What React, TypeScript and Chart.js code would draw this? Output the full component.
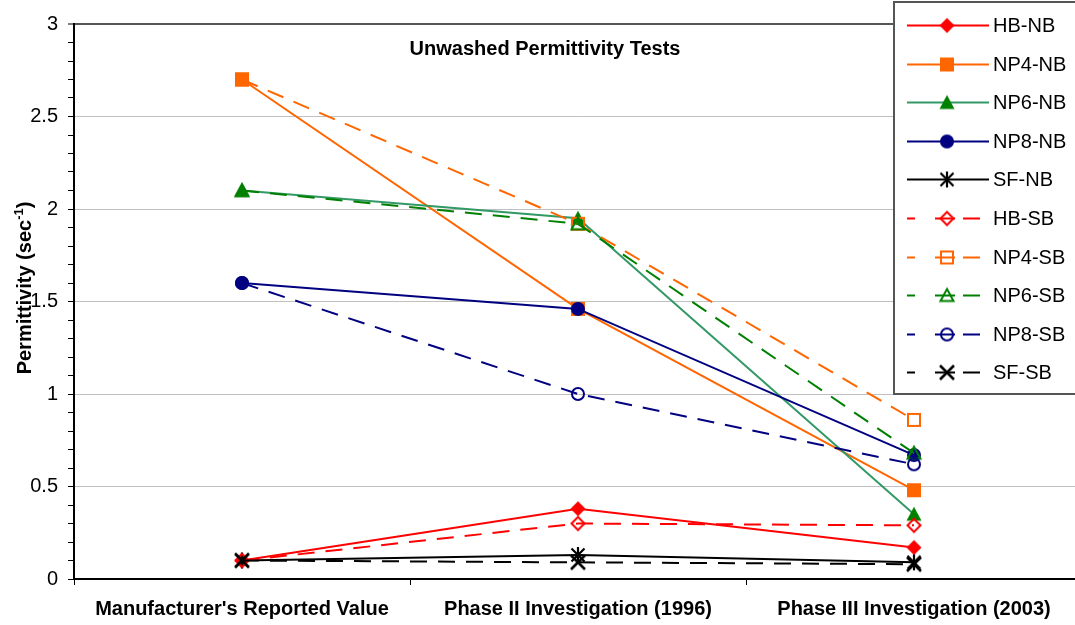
import React, { useEffect, useRef } from 'react';
import { Chart, registerables } from 'chart.js';

Chart.register(...registerables);

const categories = ["Manufacturer's Reported Value", 'Phase II Investigation (1996)', 'Phase III Investigation (2003)'];
const seriesNames = ['HB-NB', 'NP4-NB', 'NP6-NB', 'NP8-NB', 'SF-NB', 'HB-SB', 'NP4-SB', 'NP6-SB', 'NP8-SB', 'SF-SB'];
const hbNB = [0.1, 0.38, 0.17];
const np4NB = [2.7, 1.46, 0.48];
const np6NB = [2.1, 1.95, 0.35];
const np8NB = [1.6, 1.46, 0.67];
const sfNB = [0.1, 0.13, 0.09];
const hbSB = [0.1, 0.3, 0.29];
const np4SB = [2.7, 1.92, 0.86];
const np6SB = [2.1, 1.92, 0.68];
const np8SB = [1.6, 1.0, 0.62];
const sfSB = [0.1, 0.09, 0.08];
const seriesValues = [hbNB, np4NB, np6NB, np8NB, sfNB, hbSB, np4SB, np6SB, np8SB, sfSB];
const chartTitle = 'Unwashed Permittivity Tests';
const yTitleMain = 'Permittivity (sec';
const yTitleSup = '-1';
const yTitleEnd = ')';

const FONT = "'Liberation Sans', Arial, sans-serif";
const CANVAS_W = 1091;

type Style = { line: string; mark: string; kind: string; filled: boolean; dashed: boolean };
const styles: Style[] = [
  { line: '#FF0000', mark: '#FF0000', kind: 'diamond', filled: true, dashed: false },
  { line: '#FF6600', mark: '#FF6600', kind: 'square', filled: true, dashed: false },
  { line: '#339966', mark: '#008000', kind: 'triangle', filled: true, dashed: false },
  { line: '#000080', mark: '#000080', kind: 'circle', filled: true, dashed: false },
  { line: '#000000', mark: '#000000', kind: 'asterisk', filled: true, dashed: false },
  { line: '#FF0000', mark: '#FF0000', kind: 'diamond', filled: false, dashed: true },
  { line: '#FF6600', mark: '#FF6600', kind: 'square', filled: false, dashed: true },
  { line: '#008000', mark: '#008000', kind: 'triangle', filled: false, dashed: true },
  { line: '#000080', mark: '#000080', kind: 'circle', filled: false, dashed: true },
  { line: '#000000', mark: '#000000', kind: 'x', filled: false, dashed: true },
];

function makeMarker(st: Style): HTMLCanvasElement {
  const c = document.createElement('canvas');
  c.width = 20;
  c.height = 20;
  const ctx = c.getContext('2d')!;
  const cx = 10, cy = 10;
  ctx.strokeStyle = st.mark;
  ctx.fillStyle = st.mark;
  ctx.lineWidth = 2;
  ctx.beginPath();
  switch (st.kind) {
    case 'diamond': {
      const r = st.filled ? 7.5 : 6.5;
      ctx.moveTo(cx, cy - r); ctx.lineTo(cx + r, cy); ctx.lineTo(cx, cy + r); ctx.lineTo(cx - r, cy); ctx.closePath();
      break;
    }
    case 'square': {
      if (st.filled) ctx.rect(cx - 7, cy - 7, 14, 14);
      else ctx.rect(cx - 6, cy - 6, 12, 12);
      break;
    }
    case 'triangle': {
      if (st.filled) { ctx.moveTo(cx, cy - 7.5); ctx.lineTo(cx + 7.5, cy + 6.5); ctx.lineTo(cx - 7.5, cy + 6.5); }
      else { ctx.moveTo(cx, cy - 6.5); ctx.lineTo(cx + 6.5, cy + 5.5); ctx.lineTo(cx - 6.5, cy + 5.5); }
      ctx.closePath();
      break;
    }
    case 'circle': {
      ctx.arc(cx, cy, st.filled ? 7 : 6, 0, Math.PI * 2);
      break;
    }
    case 'asterisk': {
      ctx.moveTo(cx, cy - 8); ctx.lineTo(cx, cy + 8);
      ctx.moveTo(cx - 6.5, cy - 6.5); ctx.lineTo(cx + 6.5, cy + 6.5);
      ctx.moveTo(cx + 6.5, cy - 6.5); ctx.lineTo(cx - 6.5, cy + 6.5);
      ctx.lineWidth = 2.2;
      ctx.stroke();
      return c;
    }
    case 'x': {
      ctx.moveTo(cx - 7, cy - 7); ctx.lineTo(cx + 7, cy + 7);
      ctx.moveTo(cx + 7, cy - 7); ctx.lineTo(cx - 7, cy + 7);
      ctx.lineWidth = 2.6;
      ctx.stroke();
      return c;
    }
  }
  if (st.filled) ctx.fill();
  else ctx.stroke();
  return c;
}

function makeDecorPlugin(markers: HTMLCanvasElement[]) {
  return {
    id: 'decor',
    afterDraw(chart: any) {
      const ctx = chart.ctx as CanvasRenderingContext2D;
      ctx.save();
      // chart title inside plot
      ctx.fillStyle = '#000';
      ctx.font = `bold 20px ${FONT}`;
      ctx.textAlign = 'center';
      ctx.textBaseline = 'middle';
      ctx.fillText(chartTitle, 545, 49);

      // y axis title with superscript
      ctx.save();
      ctx.translate(24, 288);
      ctx.rotate(-Math.PI / 2);
      ctx.font = `bold 20px ${FONT}`;
      const w1 = ctx.measureText(yTitleMain).width;
      const w3 = ctx.measureText(yTitleEnd).width;
      ctx.font = `bold 13px ${FONT}`;
      const w2 = ctx.measureText(yTitleSup).width;
      const total = w1 + w2 + w3;
      let x = -total / 2;
      ctx.textAlign = 'left';
      ctx.textBaseline = 'alphabetic';
      ctx.font = `bold 20px ${FONT}`;
      ctx.fillText(yTitleMain, x, 7);
      x += w1;
      ctx.font = `bold 13px ${FONT}`;
      ctx.fillText(yTitleSup, x, -1);
      x += w2;
      ctx.font = `bold 20px ${FONT}`;
      ctx.fillText(yTitleEnd, x, 7);
      ctx.restore();

      // legend
      ctx.fillStyle = '#fff';
      ctx.fillRect(894, 2, 200, 392);
      ctx.strokeStyle = '#555';
      ctx.lineWidth = 2;
      ctx.strokeRect(894, 2, 200, 392);
      chart.data.datasets.forEach((ds: any, i: number) => {
        const st = styles[i];
        const y = Math.round(25 + i * 38.6) + 0.5;
        ctx.strokeStyle = st.line;
        ctx.lineWidth = 2;
        ctx.beginPath();
        if (st.dashed) {
          ctx.setLineDash([8, 20, 20, 8, 17, 100]);
          ctx.moveTo(907, y); ctx.lineTo(981, y);
        } else {
          ctx.setLineDash([]);
          ctx.moveTo(907, y); ctx.lineTo(989, y);
        }
        ctx.stroke();
        ctx.setLineDash([]);
        ctx.drawImage(markers[i], 947 - 10, y - 10);
        ctx.fillStyle = '#000';
        ctx.font = `20px ${FONT}`;
        ctx.textAlign = 'left';
        ctx.textBaseline = 'middle';
        ctx.fillText(ds.label, 993, y + 1);
      });
      ctx.restore();
    },
  };
}

export default function App() {
  const ref = useRef<HTMLCanvasElement>(null);
  useEffect(() => {
    if (!ref.current) return;
    const markers = styles.map(makeMarker);
    const datasets = seriesNames.map((name, i) => ({
      label: name,
      data: seriesValues[i],
      borderColor: styles[i].line,
      backgroundColor: styles[i].mark,
      borderWidth: 2,
      borderDash: styles[i].dashed ? [17, 11] : [],
      pointStyle: markers[i],
      pointRadius: 7,
      pointHoverRadius: 7,
      tension: 0,
      fill: false,
      order: 9 - i,
    }));
    const chart: any = new Chart(ref.current, {
      type: 'line',
      data: { labels: categories, datasets },
      plugins: [makeDecorPlugin(markers)],
      options: {
        responsive: false,
        animation: false,
        devicePixelRatio: 1,
        events: [],
        layout: { padding: { top: 24, right: 1, left: 0, bottom: 0 } },
        plugins: { legend: { display: false }, tooltip: { enabled: false }, title: { display: false } },
        scales: {
          x: {
            type: 'category',
            offset: true,
            grid: { offset: true, drawOnChartArea: false, drawTicks: true, tickLength: 6, tickColor: '#000', tickWidth: 1 },
            border: { color: '#000', width: 2 },
            ticks: { font: { family: FONT, size: 20, weight: 'bold' }, color: '#000', padding: 12, maxRotation: 0, autoSkip: false },
            afterFit: (s: any) => { s.height = 46; s.paddingLeft = 0; s.paddingRight = 0; },
          },
          y: {
            min: 0,
            max: 3,
            ticks: {
              stepSize: 0.1,
              autoSkip: false,
              maxTicksLimit: 100,
              font: { family: FONT, size: 20 },
              color: '#000',
              padding: 10,
              callback: (v: any) => {
                const k = Math.round(Number(v) * 10);
                return k % 5 === 0 ? String(k / 10) : '';
              },
            },
            grid: {
              color: (c: any) => {
                const k = Math.round((c.tick ? c.tick.value : 0) * 10);
                if (k === 30) return '#555555';
                if (k > 0 && k % 5 === 0) return '#c0c0c0';
                return 'rgba(0,0,0,0)';
              },
              lineWidth: (c: any) => (Math.round((c.tick ? c.tick.value : 0) * 10) === 30 ? 2 : 1),
              tickColor: '#000',
              tickWidth: 1,
              tickLength: 6,
              drawTicks: true,
            },
            border: { color: '#000', width: 2 },
            afterFit: (s: any) => { s.width = 74; s.paddingTop = 0; s.paddingBottom = 0; },
          },
        },
      } as any,
    });
    return () => chart.destroy();
  }, []);
  return (
    <div style={{ position: 'fixed', left: 0, top: 0, width: 1075, height: 625, overflow: 'hidden', background: '#fff' }}>
      <canvas ref={ref} width={CANVAS_W} height={625} style={{ display: 'block', width: CANVAS_W, height: 625 }} />
    </div>
  );
}
